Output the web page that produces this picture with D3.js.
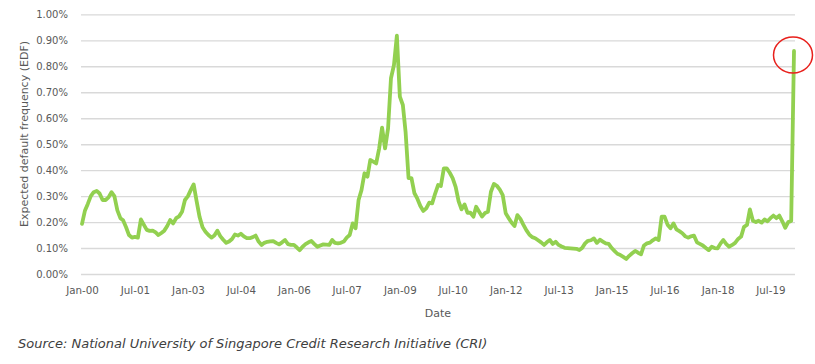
<!DOCTYPE html>
<html>
<head>
<meta charset="utf-8">
<script src="https://cdn.jsdelivr.net/npm/d3@7"></script>
<style>
  html, body { margin: 0; padding: 0; background: #fff; }
  svg { display: block; }
</style>
</head>
<body>
<svg id="chart" width="815" height="364"></svg>
<script>
// ---- data ----
const startMonth = "2000-01";            // first monthly observation
const edfValues = [
  0.193, 0.245, 0.27, 0.30, 0.315, 0.32, 0.31, 0.285, 0.285, 0.295, 0.315, 0.30,      // 2000
  0.245, 0.215, 0.207, 0.18, 0.15, 0.14, 0.143, 0.14, 0.21, 0.19, 0.17, 0.166,          // 2001
  0.167, 0.16, 0.15, 0.158, 0.167, 0.185, 0.208, 0.195, 0.215, 0.222, 0.24, 0.285,      // 2002
  0.30, 0.325, 0.345, 0.28, 0.22, 0.18, 0.163, 0.15, 0.14, 0.148, 0.167, 0.146,         // 2003
  0.132, 0.12, 0.125, 0.135, 0.152, 0.148, 0.155, 0.145, 0.138, 0.138, 0.142, 0.148,    // 2004
  0.125, 0.112, 0.12, 0.124, 0.126, 0.127, 0.12, 0.114, 0.122, 0.131, 0.115, 0.112,     // 2005
  0.112, 0.102, 0.092, 0.105, 0.115, 0.122, 0.127, 0.115, 0.105, 0.11, 0.114, 0.113,    // 2006
  0.112, 0.131, 0.12, 0.118, 0.12, 0.125, 0.14, 0.15, 0.195, 0.176, 0.285, 0.323,       // 2007
  0.388, 0.375, 0.439, 0.433, 0.426, 0.484, 0.564, 0.484, 0.561, 0.754, 0.805, 0.918,   // 2008
  0.683, 0.651, 0.548, 0.369, 0.369, 0.311, 0.29, 0.262, 0.243, 0.253, 0.275, 0.272,    // 2009
  0.31, 0.343, 0.339, 0.407, 0.407, 0.39, 0.369, 0.336, 0.28, 0.249, 0.268, 0.236,      // 2010
  0.236, 0.221, 0.259, 0.24, 0.221, 0.235, 0.24, 0.317, 0.347, 0.34, 0.325, 0.304,      // 2011
  0.234, 0.215, 0.198, 0.185, 0.227, 0.212, 0.19, 0.169, 0.152, 0.142, 0.138, 0.13,     // 2012
  0.122, 0.112, 0.122, 0.131, 0.116, 0.124, 0.112, 0.106, 0.101, 0.10, 0.099, 0.098,    // 2013
  0.097, 0.092, 0.10, 0.118, 0.128, 0.13, 0.137, 0.12, 0.132, 0.125, 0.118, 0.116,      // 2014
  0.10, 0.088, 0.078, 0.073, 0.066, 0.058, 0.07, 0.08, 0.089, 0.082, 0.076, 0.11,       // 2015
  0.118, 0.121, 0.13, 0.137, 0.131, 0.221, 0.221, 0.19, 0.176, 0.195, 0.172, 0.165,     // 2016
  0.157, 0.145, 0.14, 0.145, 0.148, 0.122, 0.116, 0.11, 0.10, 0.092, 0.105, 0.10,       // 2017
  0.099, 0.118, 0.131, 0.115, 0.105, 0.112, 0.12, 0.135, 0.144, 0.182, 0.189, 0.249,    // 2018
  0.205, 0.20, 0.205, 0.198, 0.21, 0.203, 0.215, 0.225, 0.215, 0.225, 0.203, 0.178,     // 2019
  0.20, 0.204, 0.859                                                                     // 2020
];
const yTicks = [0, 0.1, 0.2, 0.3, 0.4, 0.5, 0.6, 0.7, 0.8, 0.9, 1.0];
const xTickLabels = ["Jan-00","Jul-01","Jan-03","Jul-04","Jan-06","Jul-07","Jan-09",
                     "Jul-10","Jan-12","Jul-13","Jan-15","Jul-16","Jan-18","Jul-19"];
const yTitle = "Expected default frequency (EDF)";
const xTitle = "Date";
const sourceText = "Source: National University of Singapore Credit Research Initiative (CRI)";

// ---- build ----
const parseMonth = d3.timeParse("%Y-%m");
const parseLabel = d3.timeParse("%b-%y");
const t0 = parseMonth(startMonth);
const series = edfValues.map((v, i) => ({ date: d3.timeMonth.offset(t0, i), value: v }));
const tickDates = xTickLabels.map(parseLabel);

const svg = d3.select("#chart");
const font = "'DejaVu Sans', Verdana, sans-serif";
const plot = { left: 81, right: 795, top: 14.4, bottom: 274 };

const x = d3.scaleTime()
  .domain(d3.extent(series, d => d.date))
  .range([82, 794]);
const y = d3.scaleLinear()
  .domain([0, 1])
  .range([plot.bottom, plot.top]);

// gridlines + y labels
const yAxis = d3.axisLeft(y)
  .tickValues(yTicks)
  .tickFormat(d => d.toFixed(2) + "%")
  .tickSize(-(plot.right - plot.left))
  .tickPadding(13);
const gy = svg.append("g")
  .attr("transform", `translate(${plot.left},0)`)
  .call(yAxis);
gy.select(".domain").remove();
gy.selectAll(".tick line").attr("stroke", "#d9d9d9").attr("stroke-width", 1.4);
gy.selectAll(".tick text")
  .attr("fill", "#595959")
  .style("font-family", font)
  .style("font-size", "10px");

// x labels
const xAxis = d3.axisBottom(x)
  .tickValues(tickDates)
  .tickFormat(d3.timeFormat("%b-%y"))
  .tickSize(0)
  .tickPadding(13);
const gx = svg.append("g")
  .attr("transform", `translate(0,${plot.bottom})`)
  .call(xAxis);
gx.select(".domain").remove();
gx.selectAll(".tick text")
  .attr("fill", "#595959")
  .style("font-family", font)
  .style("font-size", "10.3px");

// line
const line = d3.line()
  .x(d => x(d.date))
  .y(d => y(d.value));
svg.append("path")
  .datum(series)
  .attr("fill", "none")
  .attr("stroke", "#92d050")
  .attr("stroke-width", 3.8)
  .attr("stroke-linejoin", "round")
  .attr("stroke-linecap", "round")
  .attr("d", line);

// highlight circle around last point
const last = series[series.length - 1];
svg.append("ellipse")
  .attr("cx", x(last.date) - 1)
  .attr("cy", y(last.value) + 4)
  .attr("rx", 19.5)
  .attr("ry", 18)
  .attr("fill", "none")
  .attr("stroke", "#e8201c")
  .attr("stroke-width", 1.5);

// titles
svg.append("text")
  .attr("transform", "translate(24,134) rotate(-90)")
  .attr("text-anchor", "middle")
  .attr("dominant-baseline", "central")
  .attr("fill", "#595959")
  .style("font-family", font)
  .style("font-size", "11px")
  .text(yTitle);

svg.append("text")
  .attr("x", 438)
  .attr("y", 313)
  .attr("text-anchor", "middle")
  .attr("dominant-baseline", "central")
  .attr("fill", "#595959")
  .style("font-family", font)
  .style("font-size", "11px")
  .text(xTitle);

svg.append("text")
  .attr("x", 18)
  .attr("y", 343)
  .attr("dominant-baseline", "central")
  .attr("fill", "#404040")
  .style("font-family", font)
  .style("font-style", "italic")
  .style("font-size", "13px")
  .text(sourceText);
</script>
</body>
</html>
